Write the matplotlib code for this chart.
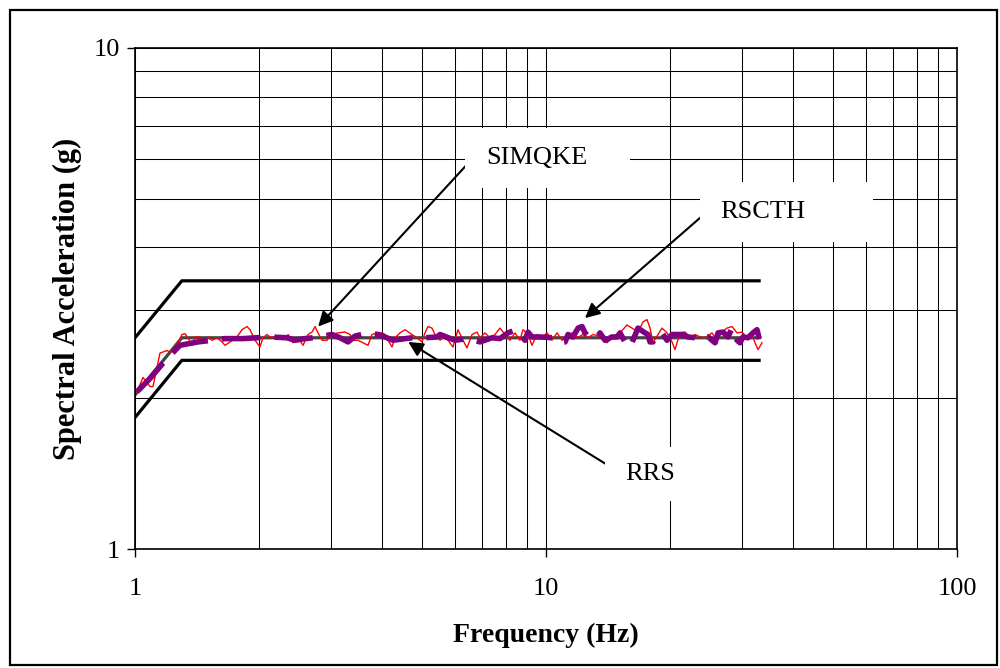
import numpy as np
import matplotlib
matplotlib.use("Agg")
import matplotlib.pyplot as plt
from matplotlib.patches import Rectangle
from matplotlib.ticker import FixedLocator, NullFormatter

plt.rcParams['font.family'] = ['Liberation Serif', 'DejaVu Serif']

# required response spectrum and +30% / -10% bounds
rrs_freq = [1.0, 1.3, 33.0]
rrs_acc = [2.03, 2.64, 2.64]
upper_acc = [2.64, 3.43, 3.43]
lower_acc = [1.83, 2.38, 2.38]

# SIMQKE spectrum
simqke_freq = [1.011, 1.046, 1.088, 1.106, 1.150, 1.196, 1.217, 1.265, 1.301, 1.323,
               1.346, 1.376, 1.400, 1.439, 1.464, 1.505, 1.539, 1.583, 1.628, 1.656,
               1.703, 1.771, 1.821, 1.873, 1.905, 1.959, 2.014, 2.048, 2.095, 2.130,
               2.167, 2.216, 2.291, 2.343, 2.357, 2.424, 2.493, 2.564, 2.636, 2.696,
               2.742, 2.788, 2.851, 2.932, 3.015, 3.118, 3.243, 3.336, 3.392, 3.488,
               3.587, 3.689, 3.772, 3.879, 3.990, 4.057, 4.126, 4.220, 4.292, 4.414,
               4.539, 4.720, 4.854, 4.991, 5.076, 5.163, 5.280, 5.370, 5.522, 5.616,
               5.775, 5.939, 6.107, 6.280, 6.422, 6.607, 6.794, 6.910, 7.105, 7.306,
               7.514, 7.727, 7.946, 8.171, 8.403, 8.641, 8.790, 9.039, 9.245, 9.508,
               9.777, 10.06, 10.34, 10.64, 10.94, 11.25, 11.57, 11.90, 12.30, 12.65,
               13.01, 13.68, 14.07, 14.55, 15.14, 15.74, 16.19, 16.74, 17.22, 17.61,
               17.91, 18.21, 18.73, 19.15, 19.70, 20.26, 20.60, 21.18, 21.79, 22.41,
               23.05, 23.96, 24.64, 25.34, 26.07, 26.81, 27.57, 28.36, 29.16, 29.99,
               30.84, 31.71, 32.25, 32.80, 33.54]
simqke_acc = [2.06, 2.20, 2.11, 2.11, 2.46, 2.49, 2.47, 2.55, 2.68, 2.69,
              2.64, 2.55, 2.65, 2.65, 2.59, 2.65, 2.61, 2.64, 2.59, 2.55,
              2.59, 2.65, 2.74, 2.78, 2.74, 2.61, 2.53, 2.64, 2.68, 2.65,
              2.65, 2.64, 2.66, 2.65, 2.68, 2.58, 2.64, 2.55, 2.68, 2.71,
              2.78, 2.70, 2.61, 2.61, 2.68, 2.70, 2.71, 2.68, 2.61, 2.61,
              2.58, 2.55, 2.68, 2.70, 2.70, 2.68, 2.61, 2.53, 2.64, 2.70,
              2.74, 2.68, 2.64, 2.59, 2.70, 2.78, 2.76, 2.68, 2.61, 2.64,
              2.61, 2.53, 2.74, 2.61, 2.52, 2.68, 2.71, 2.64, 2.70, 2.64,
              2.68, 2.76, 2.68, 2.61, 2.70, 2.61, 2.74, 2.68, 2.55, 2.68,
              2.64, 2.70, 2.61, 2.70, 2.61, 2.65, 2.70, 2.64, 2.68, 2.64,
              2.68, 2.65, 2.58, 2.65, 2.70, 2.80, 2.76, 2.71, 2.84, 2.87,
              2.76, 2.58, 2.68, 2.76, 2.70, 2.59, 2.50, 2.70, 2.71, 2.64,
              2.68, 2.64, 2.65, 2.70, 2.61, 2.71, 2.76, 2.78, 2.70, 2.71,
              2.64, 2.68, 2.58, 2.50, 2.58]

# RSCTH spectrum
rscth_freq = [1.011, 1.088, 1.170, 1.286, 1.423, 1.656, 1.831, 2.130, 2.343, 2.451,
              2.592, 2.712, 3.015, 3.154, 3.298, 3.430, 3.689, 3.901, 4.057, 4.244,
              4.720, 5.076, 5.431, 5.522, 6.005, 6.422, 6.910, 7.389, 7.727, 8.078,
              8.497, 8.888, 9.039, 9.245, 9.669, 10.40, 10.82, 11.13, 11.31, 11.63,
              11.97, 12.24, 12.44, 12.80, 13.31, 13.53, 13.92, 14.47, 14.89, 15.14,
              15.57, 16.01, 16.28, 16.74, 17.42, 17.71, 17.91, 18.21, 18.63, 19.15,
              19.70, 20.26, 20.84, 21.54, 22.16, 23.05, 23.96, 24.79, 25.78, 26.22,
              26.96, 27.72, 28.36, 29.16, 29.65, 30.15, 31.00, 31.88, 32.61, 33.17]
rscth_acc = [2.06, 2.19, 2.35, 2.55, 2.59, 2.63, 2.63, 2.65, 2.64, 2.61,
             2.63, 2.64, 2.68, 2.64, 2.59, 2.66, 2.70, 2.68, 2.65, 2.61,
             2.64, 2.64, 2.65, 2.68, 2.61, 2.63, 2.59, 2.64, 2.63, 2.70,
             2.74, 2.61, 2.71, 2.65, 2.65, 2.64, 2.58, 2.59, 2.68, 2.65,
             2.76, 2.78, 2.70, 2.64, 2.64, 2.70, 2.61, 2.65, 2.65, 2.70,
             2.59, 2.53, 2.61, 2.76, 2.70, 2.68, 2.59, 2.59, 2.68, 2.70,
             2.61, 2.68, 2.68, 2.68, 2.65, 2.64, 2.61, 2.65, 2.58, 2.70,
             2.71, 2.65, 2.76, 2.61, 2.58, 2.65, 2.64, 2.70, 2.74, 2.59]

x_ticks = [1, 10, 100]
y_ticks = [1, 10]


def px(x, y):
    # reference image pixel -> figure fraction
    return x / 1000.0, 1 - y / 668.0


fig = plt.figure(figsize=(10, 6.68), dpi=100)
ax = fig.add_axes([0.135, 1 - 549 / 668, 0.822, 501 / 668])

ax.set_xscale('log')
ax.set_yscale('log')
ax.set_xlim(1, 100)
ax.set_ylim(1, 10)

ax.xaxis.set_major_locator(FixedLocator(x_ticks))
ax.yaxis.set_major_locator(FixedLocator(y_ticks))
ax.set_xticklabels([str(t) for t in x_ticks])
ax.set_yticklabels([str(t) for t in y_ticks])
ax.xaxis.set_minor_locator(FixedLocator([m * d for d in (1, 10) for m in range(2, 10)]))
ax.yaxis.set_minor_locator(FixedLocator(list(range(2, 10))))
ax.xaxis.set_minor_formatter(NullFormatter())
ax.yaxis.set_minor_formatter(NullFormatter())
ax.tick_params(which='major', direction='out', length=6, width=1, labelsize=19)
ax.tick_params(axis='x', which='major', pad=15)
ax.tick_params(axis='y', which='major', pad=5)
ax.tick_params(which='minor', length=0)
ax.grid(True, which='both', color='black', lw=0.75)
ax.set_axisbelow(True)
for s in ax.spines.values():
    s.set_linewidth(1.2)

ax.plot(rrs_freq, upper_acc, color='black', lw=2.3, zorder=2)
ax.plot(rrs_freq, lower_acc, color='black', lw=2.3, zorder=2)
ax.plot(rrs_freq, rrs_acc, color='#444444', lw=2.3, zorder=2)
ax.plot(simqke_freq, simqke_acc, color='red', lw=1.0, zorder=3)
ax.plot(rscth_freq, rscth_acc, color='#800080', lw=4.0, ls=(0, (7, 2.5)), zorder=3)

ax.set_xlabel('Frequency (Hz)', fontsize=20, fontweight='bold', labelpad=16)
ax.set_ylabel('Spectral Acceleration (g)', fontsize=22, fontweight='bold', labelpad=8)

# white label boxes
for (x0, y0, x1, y1) in [(465, 128, 630, 188), (700, 182, 873, 242), (605, 447, 715, 501)]:
    fx0, fy1 = px(x0, y0)
    fx1, fy0 = px(x1, y1)
    fig.add_artist(Rectangle((fx0, fy0), fx1 - fx0, fy1 - fy0, transform=fig.transFigure,
                             facecolor='white', edgecolor='none', zorder=4))

fig.text(*px(486, 158), 'SIMQKE', fontsize=19, ha='left', va='center', zorder=5)
fig.text(*px(720, 212), 'RSCTH', fontsize=19, ha='left', va='center', zorder=5)
fig.text(*px(625, 474), 'RRS', fontsize=19, ha='left', va='center', zorder=5)

arrow = dict(arrowstyle='-|>', color='black', lw=1.5, mutation_scale=22, shrinkA=0, shrinkB=0)
ax.annotate('', xy=(2.79, 2.78), xytext=(6.64, 6.03), arrowprops=arrow, zorder=6)
ax.annotate('', xy=(12.44, 2.89), xytext=(24.64, 4.71), arrowprops=arrow, zorder=6)
ax.annotate('', xy=(4.62, 2.59), xytext=(14.72, 1.44), arrowprops=arrow, zorder=6)

# outer frame
fx0, fy1 = px(10, 10)
fx1, fy0 = px(997, 665)
fig.add_artist(Rectangle((fx0, fy0), fx1 - fx0, fy1 - fy0, transform=fig.transFigure,
                         facecolor='none', edgecolor='black', lw=1.6, zorder=7))

fig.savefig('out.png', dpi=100)
